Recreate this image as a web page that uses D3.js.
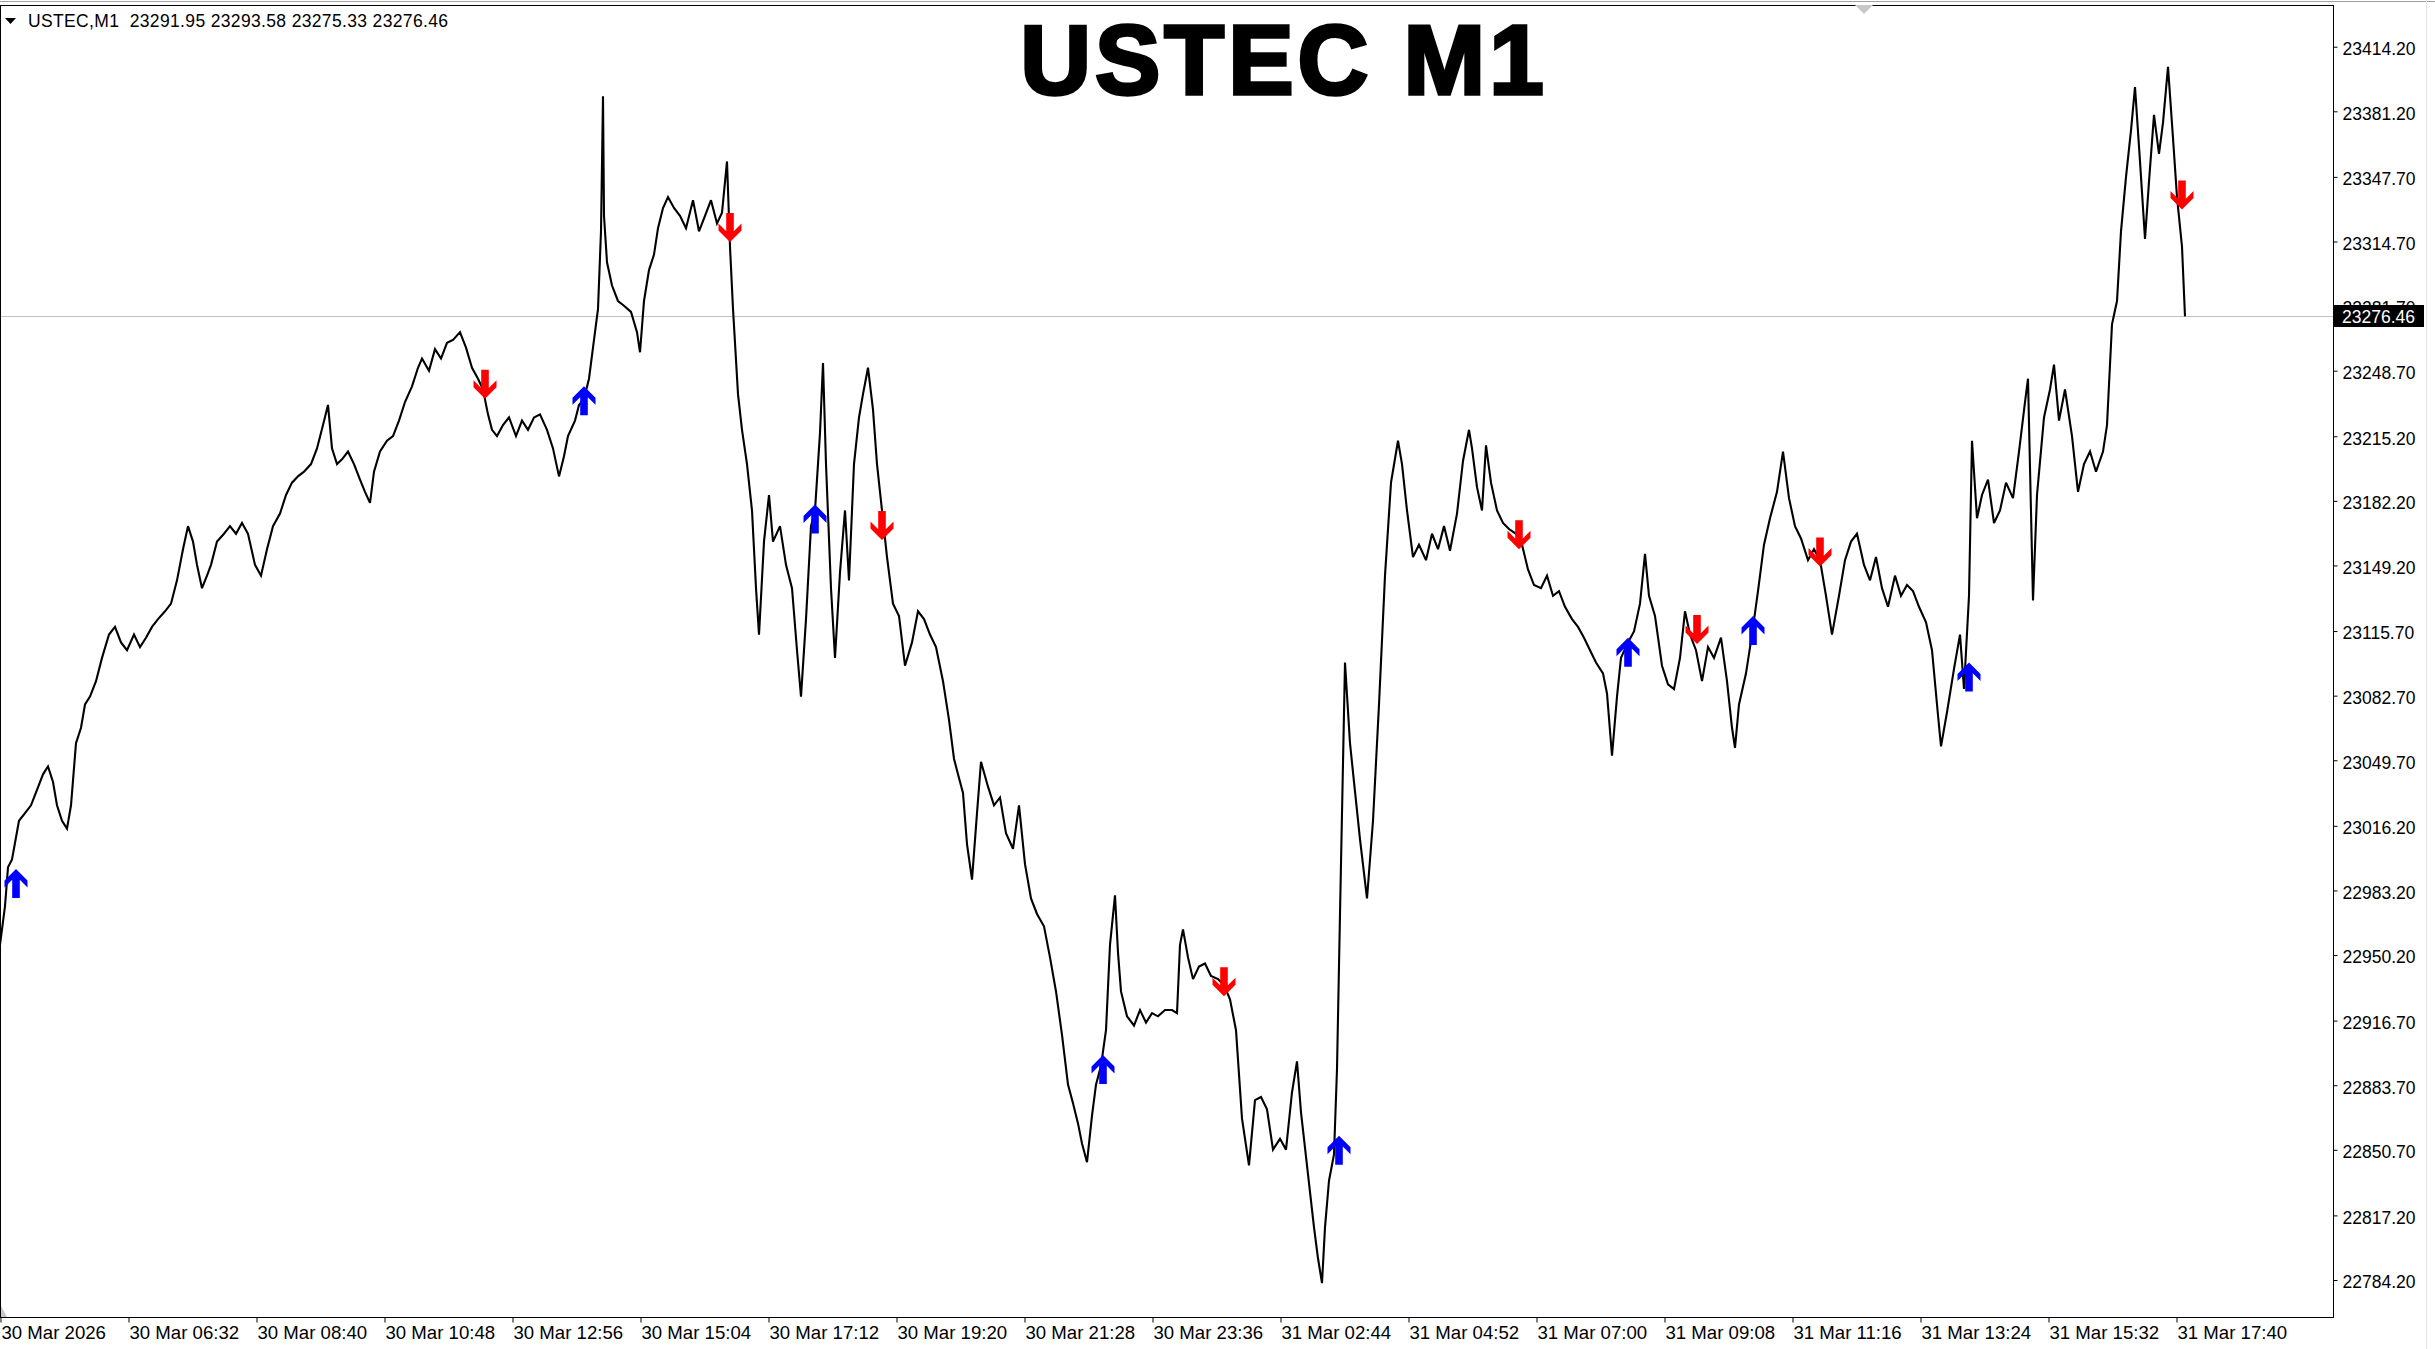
<!DOCTYPE html>
<html>
<head>
<meta charset="utf-8">
<script src="https://cdn.jsdelivr.net/npm/d3@7"></script>
<style>
  html, body { margin: 0; padding: 0; background: #fff; }
  svg { display: block; }
  .axis text, .info { font-family: "Liberation Sans", Arial, sans-serif; font-size: 17.5px; fill: #000; }
  .xaxis text { font-size: 18.6px; }
  .info { white-space: pre; }
</style>
</head>
<body>
<div id="chart"></div>
<script>
// values; x is the bar number (one M1 bar per pixel)
var symbol = "USTEC,M1";
var lastOhlc = [23291.95, 23293.58, 23275.33, 23276.46];
var title = "USTEC M1";
var bidPrice = 23276.46;
var priceRange = [22765.3, 23435.5];

var closeSeries = [
  [0,22955.4],[5,22975.2],[8,22995.0],[12,22999.0],[19,23018.8],[25,23022.7],[31,23026.7],[37,23034.6],[43,23042.5],[48,23046.5],
  [53,23038.6],[57,23026.7],[62,23018.8],[67,23014.8],[71,23026.7],[76,23058.4],[81,23066.3],[85,23078.2],[90,23082.2],[96,23090.1],
  [102,23102.0],[109,23113.9],[115,23117.8],[121,23109.9],[127,23105.9],[134,23113.9],[140,23107.5],[146,23112.3],[152,23117.8],[158,23121.8],
  [165,23125.8],[171,23129.7],[177,23141.6],[183,23157.5],[188,23169.3],[193,23161.4],[197,23149.5],[202,23137.6],[207,23144.0],[211,23149.5],
  [217,23161.4],[224,23165.4],[230,23169.3],[236,23165.4],[242,23170.9],[248,23165.4],[255,23149.5],[261,23144.0],[267,23157.5],[273,23169.3],
  [280,23175.7],[286,23185.2],[292,23191.5],[298,23194.7],[304,23197.1],[311,23201.0],[317,23209.0],[323,23220.9],[328,23231.2],[332,23209.0],
  [337,23201.0],[342,23203.4],[348,23207.4],[354,23201.0],[360,23193.1],[365,23186.8],[370,23181.2],[374,23197.1],[380,23207.4],[387,23212.9],
  [393,23215.3],[399,23223.2],[405,23232.7],[412,23240.7],[418,23250.2],[422,23254.9],[429,23248.6],[435,23259.7],[441,23254.9],[447,23262.9],
  [453,23264.4],[460,23268.4],[466,23260.5],[472,23250.2],[478,23244.6],[483,23239.1],[488,23226.4],[492,23218.5],[497,23215.3],[503,23220.9],
  [509,23224.8],[516,23215.3],[522,23223.2],[528,23218.5],[534,23224.8],[540,23226.4],[547,23218.5],[553,23209.0],[559,23194.7],[564,23205.0],
  [568,23215.3],[575,23223.2],[579,23231.2],[584,23234.3],[589,23244.6],[593,23260.5],[598,23280.3],[601,23319.9],[603,23388.9],[604,23327.8],
  [607,23304.1],[612,23292.2],[618,23284.3],[624,23281.9],[631,23278.7],[637,23268.4],[640,23258.1],[644,23284.3],[649,23300.1],[654,23308.0],
  [658,23321.5],[663,23331.8],[668,23337.4],[674,23331.8],[680,23327.8],[686,23321.5],[693,23335.8],[699,23319.9],[705,23327.8],[711,23335.8],
  [717,23323.9],[722,23329.4],[727,23355.6],[730,23312.0],[733,23280.3],[738,23236.7],[742,23218.5],[747,23201.0],[752,23177.3],[756,23137.6],
  [759,23113.9],[764,23161.4],[769,23185.2],[773,23161.4],[780,23169.3],[786,23149.5],[792,23137.6],[797,23105.9],[801,23082.2],[806,23121.8],
  [811,23169.3],[815,23177.3],[820,23216.9],[823,23252.6],[826,23201.0],[831,23137.6],[835,23102.0],[840,23145.6],[845,23177.3],[849,23141.6],
  [854,23201.0],[859,23224.8],[863,23236.7],[868,23250.2],[873,23228.8],[877,23201.0],[882,23177.3],[887,23153.5],[893,23129.7],[899,23123.4],
  [905,23098.0],[912,23109.9],[918,23125.8],[924,23121.8],[930,23113.9],[936,23107.5],[943,23090.1],[949,23070.3],[954,23050.5],[958,23042.5],
  [963,23033.0],[967,23006.9],[972,22988.7],[977,23022.7],[981,23048.9],[988,23036.2],[994,23026.7],[1000,23030.7],[1006,23012.4],[1013,23004.5],
  [1019,23026.7],[1025,22996.6],[1031,22979.1],[1037,22971.2],[1044,22964.9],[1050,22949.0],[1056,22931.6],[1062,22909.4],[1068,22884.0],[1073,22874.5],
  [1078,22864.2],[1082,22853.9],[1087,22844.4],[1092,22868.2],[1096,22884.0],[1101,22893.6],[1106,22911.8],[1110,22955.4],[1115,22980.7],[1118,22951.4],
  [1121,22931.6],[1127,22918.9],[1134,22914.2],[1140,22922.1],[1146,22915.7],[1152,22920.5],[1158,22918.9],[1165,22922.1],[1172,22922.1],[1177,22920.5],
  [1180,22955.4],[1183,22963.3],[1188,22949.0],[1193,22937.9],[1199,22944.3],[1205,22945.9],[1211,22939.5],[1218,22937.9],[1224,22934.8],[1230,22927.6],
  [1236,22911.8],[1242,22866.6],[1249,22842.8],[1255,22876.1],[1261,22877.7],[1267,22871.4],[1273,22850.8],[1280,22856.3],[1286,22850.8],[1292,22880.1],
  [1297,22895.9],[1301,22869.8],[1308,22838.1],[1314,22811.1],[1318,22795.3],[1322,22782.6],[1325,22811.1],[1329,22834.9],[1334,22848.4],[1337,22892.0],
  [1340,22971.2],[1345,23099.6],[1350,23058.4],[1354,23038.6],[1360,23009.3],[1367,22979.1],[1373,23018.8],[1379,23078.2],[1385,23144.0],[1391,23191.5],
  [1398,23212.9],[1402,23201.0],[1407,23177.3],[1413,23153.5],[1419,23159.8],[1426,23151.9],[1432,23165.4],[1438,23157.5],[1444,23169.3],[1450,23156.7],
  [1457,23175.7],[1463,23202.6],[1469,23218.5],[1472,23209.0],[1477,23189.2],[1482,23177.3],[1486,23210.6],[1491,23191.5],[1497,23177.3],[1503,23170.9],
  [1509,23167.8],[1516,23165.4],[1522,23159.8],[1528,23147.2],[1534,23139.2],[1541,23137.6],[1547,23144.0],[1553,23133.7],[1559,23136.1],[1565,23128.1],
  [1572,23121.8],[1578,23117.8],[1584,23112.3],[1590,23105.9],[1596,23099.6],[1603,23094.1],[1607,23083.8],[1612,23052.1],[1617,23082.2],[1621,23102.0],
  [1628,23109.9],[1634,23115.5],[1640,23129.7],[1645,23155.1],[1649,23133.7],[1655,23123.4],[1662,23098.0],[1668,23088.5],[1674,23086.1],[1680,23102.0],
  [1685,23125.8],[1690,23113.9],[1696,23105.9],[1702,23090.1],[1708,23107.5],[1714,23102.0],[1721,23112.3],[1727,23090.1],[1732,23066.3],[1735,23056.0],
  [1739,23078.2],[1746,23094.1],[1752,23113.9],[1758,23136.1],[1764,23159.8],[1770,23173.3],[1777,23186.8],[1783,23207.4],[1789,23183.6],[1795,23169.3],
  [1801,23163.0],[1808,23151.9],[1814,23157.5],[1820,23151.9],[1826,23133.7],[1832,23113.9],[1839,23133.7],[1845,23151.9],[1851,23161.4],[1857,23165.4],
  [1864,23149.5],[1870,23141.6],[1876,23153.5],[1882,23137.6],[1888,23128.1],[1895,23144.0],[1901,23133.7],[1907,23139.2],[1913,23136.1],[1919,23128.1],
  [1926,23120.2],[1932,23105.9],[1938,23072.7],[1941,23056.8],[1947,23074.2],[1954,23096.4],[1960,23113.9],[1964,23086.1],[1969,23133.7],[1972,23212.9],
  [1977,23173.3],[1982,23185.2],[1988,23193.1],[1994,23170.9],[2000,23177.3],[2006,23191.5],[2013,23183.6],[2019,23207.4],[2025,23232.7],[2028,23244.6],
  [2033,23131.3],[2037,23185.2],[2044,23224.8],[2050,23239.1],[2054,23251.8],[2059,23223.2],[2065,23239.1],[2072,23215.3],[2078,23186.8],[2084,23201.0],
  [2090,23207.4],[2096,23197.1],[2103,23207.4],[2107,23220.9],[2112,23272.4],[2117,23284.3],[2121,23319.9],[2126,23347.7],[2131,23371.4],[2135,23393.6],
  [2140,23355.6],[2145,23316.0],[2149,23345.3],[2154,23379.4],[2159,23359.5],[2163,23375.4],[2168,23403.9],[2173,23367.5],[2177,23337.4],[2182,23312.0],
  [2185,23276.46]
];

// signal arrows: bar number and the price at the arrow tip
var buyBars   = [16, 584, 815, 1103, 1339, 1628, 1753, 1969];
var buyPrices = [22994.2, 23240.7, 23180.4, 22899.1, 22857.9, 23112.3, 23123.4, 23099.6];
var sellBars   = [485, 730, 882, 1224, 1519, 1697, 1820, 2182];
var sellPrices = [23234.3, 23314.4, 23162.2, 22929.2, 23157.5, 23109.1, 23148.7, 23331.0];

var priceTicks = [23414.20, 23381.20, 23347.70, 23314.70, 23281.70, 23248.70, 23215.20, 23182.20, 23149.20, 23115.70,
                  23082.70, 23049.70, 23016.20, 22983.20, 22950.20, 22916.70, 22883.70, 22850.70, 22817.20, 22784.20];
var timeTickBars = [0, 128, 256, 384, 512, 640, 768, 896, 1024, 1152, 1280, 1408, 1536, 1664, 1792, 1920, 2048, 2176];
var timeTickLabels = ["30 Mar 2026", "30 Mar 06:32", "30 Mar 08:40", "30 Mar 10:48", "30 Mar 12:56", "30 Mar 15:04",
                      "30 Mar 17:12", "30 Mar 19:20", "30 Mar 21:28", "30 Mar 23:36", "31 Mar 02:44", "31 Mar 04:52",
                      "31 Mar 07:00", "31 Mar 09:08", "31 Mar 11:16", "31 Mar 13:24", "31 Mar 15:32", "31 Mar 17:40"];

function drawChart(containerSelector) {
  var W = 2435, H = 1349;
  var plot = {left: 0, top: 5, right: 2333, bottom: 1317};

  var svg = d3.select(containerSelector).append("svg")
    .attr("width", W).attr("height", H);

  var x = d3.scaleLinear().domain([0, plot.right - plot.left]).range([plot.left, plot.right]);
  var y = d3.scaleLinear().domain(priceRange).range([plot.bottom, plot.top]);

  svg.append("defs").append("clipPath").attr("id", "plotClip")
    .append("rect").attr("x", plot.left).attr("y", plot.top)
    .attr("width", plot.right - plot.left).attr("height", plot.bottom - plot.top);

  // window edges
  svg.append("line").attr("x1", 0).attr("x2", W).attr("y1", 1.5).attr("y2", 1.5)
    .attr("stroke", "#a0a0a0").attr("stroke-width", 1);
  svg.append("line").attr("x1", 2426.5).attr("x2", 2426.5).attr("y1", 0).attr("y2", H)
    .attr("stroke", "#e3e3e3").attr("stroke-width", 1);

  // bid line
  svg.append("line")
    .attr("x1", plot.left).attr("x2", plot.right)
    .attr("y1", Math.round(y(bidPrice)) + 0.5).attr("y2", Math.round(y(bidPrice)) + 0.5)
    .attr("stroke", "#c0c0c0").attr("stroke-width", 1);

  // price line
  var valueline = d3.line()
    .x(function(d) { return x(d[0]); })
    .y(function(d) { return y(d[1]); });

  svg.append("path")
    .datum(closeSeries)
    .attr("clip-path", "url(#plotClip)")
    .attr("fill", "none")
    .attr("stroke", "#000")
    .attr("stroke-width", 2.1)
    .attr("stroke-linejoin", "miter")
    .attr("stroke-miterlimit", 3)
    .attr("d", valueline);

  // arrows (wingdings style), tip at the price
  function arrowPath(up) {
    var s = up ? 1 : -1;
    var pts = [[0,0],[11.5,11.5],[11.5,18.5],[3.8,10.8],[3.8,29],[-3.8,29],[-3.8,10.8],[-11.5,18.5],[-11.5,11.5]];
    return "M" + pts.map(function(p) { return p[0] + "," + (p[1] * s); }).join("L") + "Z";
  }

  svg.append("g").selectAll("path.buy")
    .data(buyBars.map(function(b, i) { return [b, buyPrices[i]]; }))
    .enter().append("path")
    .attr("transform", function(d) { return "translate(" + x(d[0]) + "," + y(d[1]) + ")"; })
    .attr("d", arrowPath(true))
    .attr("fill", "#0000ff");

  svg.append("g").selectAll("path.sell")
    .data(sellBars.map(function(b, i) { return [b, sellPrices[i]]; }))
    .enter().append("path")
    .attr("transform", function(d) { return "translate(" + x(d[0]) + "," + y(d[1]) + ")"; })
    .attr("d", arrowPath(false))
    .attr("fill", "#ff0000");

  // frame
  svg.append("rect")
    .attr("x", plot.left + 0.5).attr("y", plot.top + 0.5)
    .attr("width", plot.right - plot.left).attr("height", plot.bottom - plot.top)
    .attr("fill", "none").attr("stroke", "#000").attr("stroke-width", 1);

  // price axis
  var yAxis = d3.axisRight(y)
    .tickValues(priceTicks)
    .tickFormat(d3.format(".2f"))
    .tickSize(4)
    .tickPadding(5);
  var gy = svg.append("g").attr("class", "axis")
    .attr("transform", "translate(" + (plot.right + 0.5) + ",0)")
    .call(yAxis);
  gy.select(".domain").remove();
  gy.selectAll("text").attr("dy", "0.45em");

  // time axis
  var xAxis = d3.axisBottom(x)
    .tickValues(timeTickBars)
    .tickFormat(function(d, i) { return timeTickLabels[i]; })
    .tickSize(5)
    .tickPadding(3);
  var gx = svg.append("g").attr("class", "axis xaxis")
    .attr("transform", "translate(0," + (plot.bottom + 0.5) + ")")
    .call(xAxis);
  gx.select(".domain").remove();
  gx.selectAll(".tick line").attr("transform", "translate(0.5,0)");
  gx.selectAll("text").attr("text-anchor", "start").attr("x", 1);

  // bid label on the price scale
  var by = Math.round(y(bidPrice));
  svg.append("rect").attr("x", plot.right + 1).attr("y", by - 11)
    .attr("width", 90).attr("height", 22).attr("fill", "#000");
  svg.append("text").attr("class", "info")
    .attr("x", plot.right + 9).attr("y", by + 6.5)
    .style("fill", "#fff")
    .text(d3.format(".2f")(bidPrice));

  // shift markers
  svg.append("path").attr("d", "M1855,5L1873,5L1864,14Z").attr("fill", "#c8c8c8");
  svg.append("path").attr("d", "M1,1306L1,1317L7,1317Z").attr("fill", "#c8c8c8");

  // header line
  svg.append("path").attr("d", "M5,18L16,18L10.5,24Z").attr("fill", "#000");
  svg.append("text").attr("class", "info")
    .attr("x", 28).attr("y", 27)
    .attr("textLength", 420)
    .attr("lengthAdjust", "spacing")
    .text(symbol + "  " + lastOhlc.map(d3.format(".2f")).join(" "));

  // big title
  svg.append("text")
    .attr("x", 1284).attr("y", 94)
    .attr("text-anchor", "middle")
    .style("font-family", "'Liberation Sans', Arial, sans-serif")
    .style("font-weight", "bold")
    .style("font-size", "98px")
    .style("letter-spacing", "4px")
    .attr("fill", "#000")
    .attr("stroke", "#000")
    .attr("stroke-width", 3.5)
    .text(title);
}

drawChart("#chart");
</script>
</body>
</html>
